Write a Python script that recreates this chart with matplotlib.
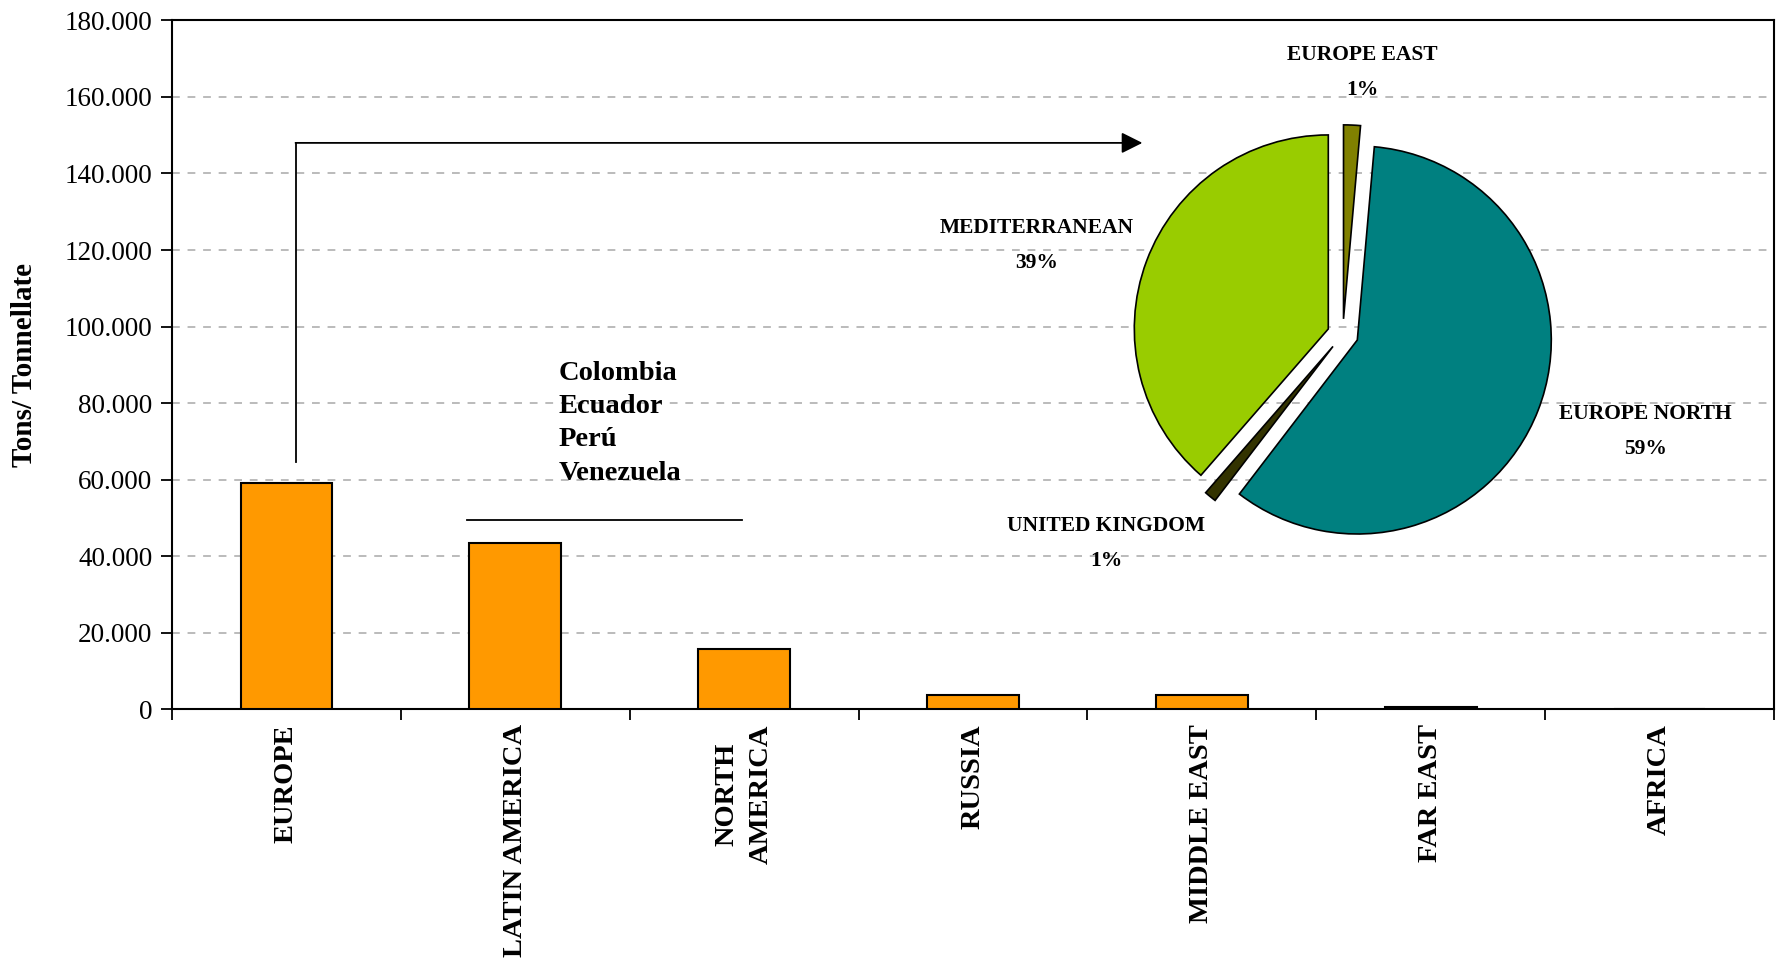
import numpy as np
import matplotlib
matplotlib.use("Agg")
import matplotlib.pyplot as plt
from matplotlib.ticker import FuncFormatter, FixedLocator

plt.rcParams['font.family'] = ['Liberation Serif', 'DejaVu Serif']

# === Data ===
regions = ["EUROPE", "LATIN AMERICA", "NORTH\nAMERICA", "RUSSIA",
           "MIDDLE EAST", "FAR EAST", "AFRICA"]
tons = [59200, 43500, 15800, 3700, 3600, 600, 0]

pie_names = ["MEDITERRANEAN", "UNITED KINGDOM", "EUROPE NORTH", "EUROPE EAST"]
pie_share = [38.6, 1.0, 59.0, 1.4]
pie_colors = ["#99CC00", "#333300", "#008080", "#808000"]

latam_countries = ["Colombia", "Ecuador", "Perú", "Venezuela"]

# === Figure ===
fig = plt.figure(figsize=(17.78, 9.66), dpi=100)
ax = fig.add_axes([0.0967, 0.266, 0.9011, 0.7128])

x = np.arange(len(regions))
ax.bar(x, tons, width=0.4, color="#FF9900", edgecolor="black", linewidth=1.5, zorder=3)

ax.set_xlim(-0.5, len(regions) - 0.5)
ax.set_ylim(0, 180000)
ax.set_yticks(np.arange(0, 180001, 20000))
ax.yaxis.set_major_formatter(FuncFormatter(lambda v, p: f"{int(v):,}".replace(",", ".")))
ax.grid(axis="y", color="#BBBBBB", linestyle=(0, (4, 4)), linewidth=1.4)
ax.set_axisbelow(True)

# category ticks between bars, labels centred under bars
ax.xaxis.set_major_locator(FixedLocator(np.arange(-0.5, len(regions), 1.0)))
ax.set_xticklabels([])
ax.set_xticks(x, minor=True)
labels = ax.set_xticklabels(regions, minor=True, rotation=90, fontsize=20.5,
                            fontweight="bold", va="top", ha="center",
                            multialignment="center")
for lab in labels:
    lab.set_linespacing(1.5)
ax.tick_params(axis="x", which="minor", length=0, pad=11)
ax.tick_params(axis="x", which="major", direction="out", length=8, width=1.3)
ax.tick_params(axis="y", direction="out", length=8, width=1.3, labelsize=19.5, pad=6)

for s in ax.spines.values():
    s.set_linewidth(1.5)
    s.set_color("black")

ax.set_ylabel("Tons/ Tonnellate", fontsize=21, fontweight="bold")
ax.yaxis.set_label_coords(-0.0836, 0.5)

# arrow from Europe bar to the pie
ax.plot([0.04, 0.04], [64600, 148000], color="black", linewidth=1.3, zorder=4)
ax.annotate("", xy=(3.74, 148000), xytext=(0.04, 148000),
            arrowprops=dict(arrowstyle="-|>", color="black", lw=1.3,
                            mutation_scale=32, shrinkA=0, shrinkB=0), zorder=4)

# Latin America bracket and countries
ax.plot([0.79, 1.99], [49500, 49500], color="black", linewidth=1.3, zorder=4)
ax.text(1.19, 74700, "\n".join(latam_countries), fontsize=20.5, fontweight="bold",
        ha="left", va="center", linespacing=1.43, zorder=4)

# === Pie inset ===
pax = fig.add_axes([0.6025, 0.3727, 0.3055, 0.5623])
pax.patch.set_alpha(0)
wedges, _ = pax.pie(pie_share, colors=pie_colors, startangle=90, counterclock=True,
                    explode=[0.08] * len(pie_share),
                    wedgeprops=dict(edgecolor="black", linewidth=1.2))
pax.set_xlim(-1.4, 1.4)
pax.set_ylim(-1.4, 1.4)
pax.set_aspect("equal")
pax.axis("off")

# label anchors in pie-radius units
label_pos = [(-1.58, 0.46), (-1.22, -1.08), (1.56, -0.50), (0.10, 1.35)]
for (lx, ly), name, share in zip(label_pos, pie_names, pie_share):
    pax.text(lx, ly, f"{name}\n{share:.0f}%",
             fontsize=15.5, fontweight="bold", ha="center", va="center",
             linespacing=2.0, clip_on=False)

fig.savefig("out.png", dpi=100)
